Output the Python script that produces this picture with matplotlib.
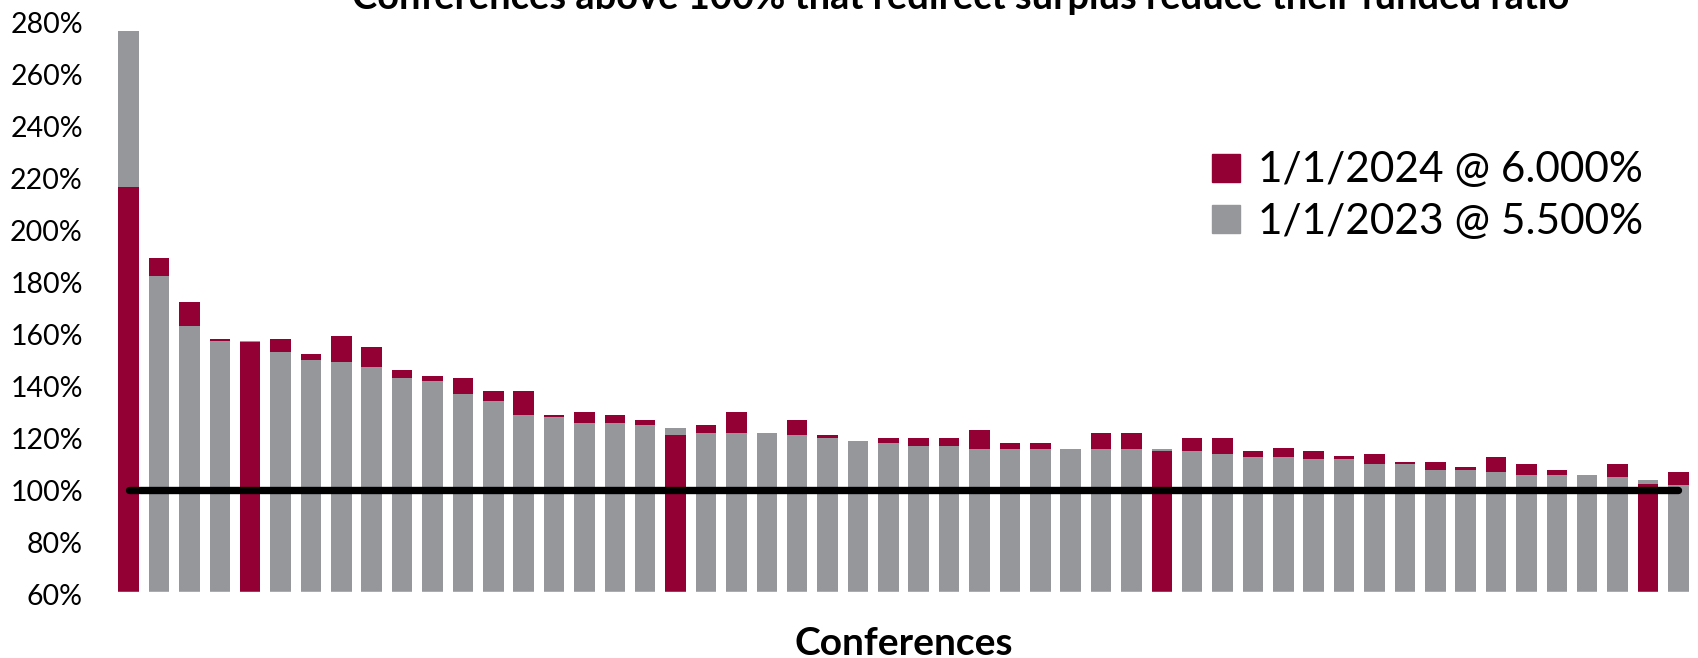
# Funded ratio by conference, 2023 vs 2024 (overlapped bars)

import numpy as np
import matplotlib
matplotlib.use("Agg")
from matplotlib import pyplot as plt
from matplotlib.lines import Line2D

# --------------------------------------------
# Data (percent)
# --------------------------------------------

title = "Conferences above 100% that redirect surplus reduce their funded ratio"
labels = ["1/1/2024 @ 6.000%", "1/1/2023 @ 5.500%"]

# 1/1/2024 @ 6.000%
ratio_2024 = [216.6, 189.4, 172.3, 158.2, 156.9, 158.2, 152.3, 159.4, 155.2, 146.2,
              144.1, 143.1, 138.2, 138.2, 129.1, 130.0, 129.1, 127.1, 121.2, 125.0,
              130.0, 122.1, 127.1, 121.2, 119.0, 120.2, 120.2, 120.2, 123.1, 118.1,
              118.1, 116.0, 122.1, 122.1, 115.2, 120.0, 120.0, 115.2, 116.2, 115.2,
              113.1, 114.0, 111.0, 111.0, 109.1, 113.0, 110.0, 108.0, 105.9, 110.0,
              102.5, 107.0]
# 1/1/2023 @ 5.500%
ratio_2023 = [276.8, 182.5, 163.4, 157.5, 157.3, 153.3, 150.2, 149.3, 147.3, 143.2,
              142.2, 137.1, 134.3, 129.1, 128.3, 126.0, 126.0, 125.2, 124.1, 122.1,
              122.1, 122.1, 121.2, 120.2, 119.0, 118.1, 117.1, 117.1, 116.0, 116.0,
              116.0, 116.0, 116.0, 116.0, 116.0, 115.2, 114.0, 113.0, 113.0, 112.1,
              112.1, 110.2, 110.2, 108.0, 108.0, 107.0, 105.9, 105.9, 105.9, 105.2,
              103.9, 102.0]
target = 100.0
y_ticks = list(range(60, 281, 20))

# --------------------------------------------
# Style
# --------------------------------------------

red = "#930034"
gray = "#96979b"
plt.rcParams["font.family"] = ["Lato", "DejaVu Sans"]

# --------------------------------------------
# Plot
# --------------------------------------------

fig = plt.figure(figsize=(16.98, 6.58), dpi=100)
ax = fig.add_axes([0.0668, 0.0967, 0.9306, 0.8693])

x = np.arange(len(ratio_2024))
base = y_ticks[0]
v24 = np.array(ratio_2024)
v23 = np.array(ratio_2023)

bars24 = ax.bar(x, v24 - base, bottom=base, width=0.675, color=red, linewidth=0)
bars23 = ax.bar(x, v23 - base, bottom=base, width=0.675, color=gray, linewidth=0)

# the shorter bar of each pair sits in front (gray wins a tie)
for b24, b23 in zip(bars24, bars23):
    if b24.get_height() < b23.get_height():
        b24.set_zorder(3)
    else:
        b23.set_zorder(3)

# 100% line
ax.plot(x, [target] * len(x), color="black", linewidth=5.3,
        solid_capstyle="round", zorder=4)

ax.set_xlim(-0.5, len(x) - 0.5)
ax.set_ylim(y_ticks[0], y_ticks[-1])
ax.set_yticks(y_ticks)
ax.set_yticklabels([f"{t}%" for t in y_ticks])
ax.set_xticks([])
ax.tick_params(axis="y", length=0, pad=22, labelsize=20.5)

for side in ["left", "right", "top"]:
    ax.spines[side].set_visible(False)
ax.spines["bottom"].set_color("white")
ax.spines["bottom"].set_linewidth(3.9)
ax.spines["bottom"].set_zorder(5)

ax.set_xlabel("Conferences", fontsize=28, fontweight="bold", labelpad=23)

# title (partly cut off at the top edge)
fig.text(0.566, 0.987, title, ha="center", va="baseline",
         fontsize=27.4, fontweight="bold")

# legend
handles = [Line2D([], [], marker="s", linestyle="none", markersize=19.5, color=red),
           Line2D([], [], marker="s", linestyle="none", markersize=19.5, color=gray)]
ax.legend(handles, labels, loc="upper left", bbox_to_anchor=(0.7107, 0.770),
          bbox_transform=fig.transFigure, frameon=False, fontsize=30.5,
          borderpad=0, borderaxespad=0, handlelength=0.9, handletextpad=0.3,
          labelspacing=0.32)

fig.savefig("out.png", dpi=100)
